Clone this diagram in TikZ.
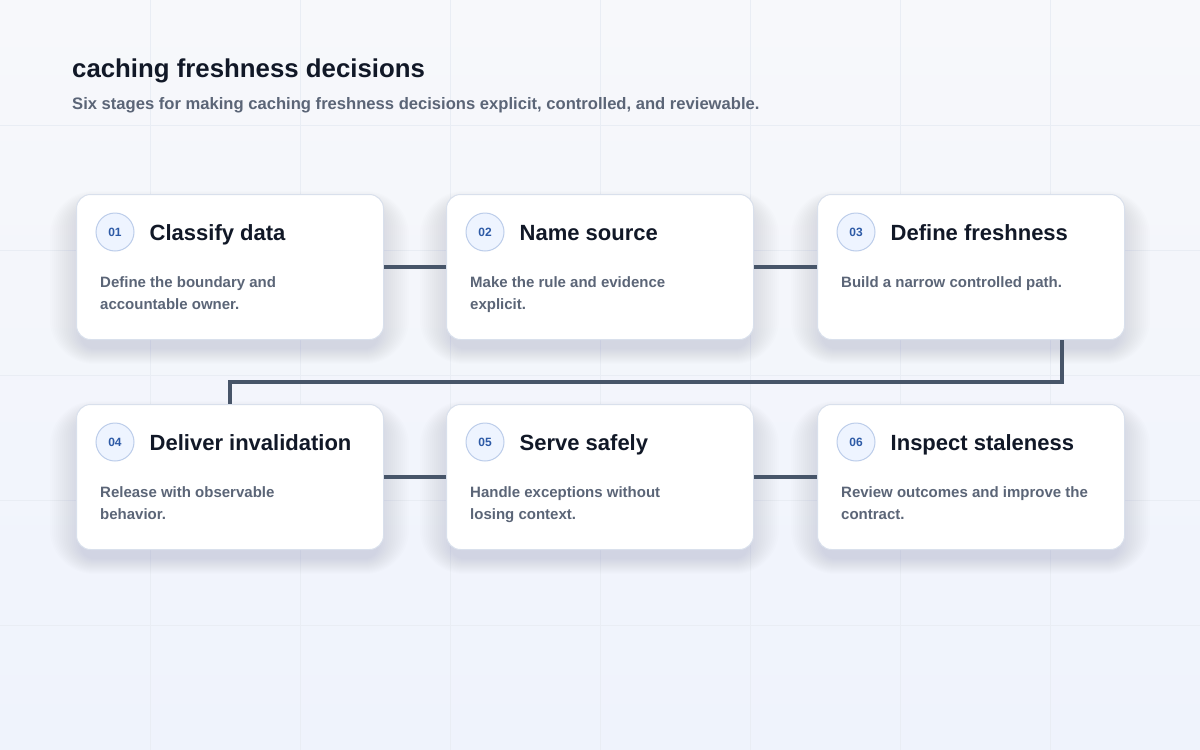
\documentclass[tikz,border=0pt]{standalone}
\usepackage{fontspec}
\setmainfont{Liberation Sans}
\usepackage{tikz}
\usetikzlibrary{positioning,calc}

\definecolor{ink}{HTML}{111827}
\definecolor{slate}{HTML}{5B6577}
\definecolor{wire}{HTML}{475569}
\definecolor{badgefill}{HTML}{EEF4FF}
\definecolor{badgeline}{HTML}{BCCDEA}
\definecolor{badgetext}{HTML}{2D5AA6}
\definecolor{cardline}{HTML}{D9E0EC}
\definecolor{gridline}{HTML}{E9EDF4}
\definecolor{bgtop}{HTML}{F7F8FB}
\definecolor{bgbottom}{HTML}{EFF3FC}
\definecolor{shadowcol}{HTML}{3B4A6B}

\tikzset{
  card/.style={draw=cardline, line width=1pt, fill=white, rounded corners=14pt,
    minimum width=307pt, minimum height=145pt, anchor=north west},
  haze/.style={fill=shadowcol, opacity=0.008},
  badge/.style={circle, draw=badgeline, fill=badgefill, line width=1pt, minimum size=38pt,
    inner sep=0pt, text=badgetext, font=\bfseries\fontsize{12}{12}\selectfont},
  cardtitle/.style={anchor=base west, inner sep=0pt, text=ink, font=\bfseries\fontsize{22}{26}\selectfont},
  carddesc/.style={anchor=north west, inner sep=0pt, align=left, text=slate,
    font=\bfseries\fontsize{15}{22}\selectfont},
  link/.style={draw=wire, line width=4pt}
}

\begin{document}
\begin{tikzpicture}[x=1pt, y=-1pt]
  \useasboundingbox (0,0) rectangle (1200,750);
  \shade[top color=bgtop, bottom color=bgbottom] (0,0) rectangle (1200,750);
  % faint grid
  \foreach \gx in {150,300,...,1050}
    \draw[gridline] (\gx,0) -- (\gx,750);
  \foreach \gy in {125,250,...,625}
    \draw[gridline] (0,\gy) -- (1200,\gy);

  \node[anchor=base west, inner sep=0pt, text=ink, font=\bfseries\fontsize{25.8}{30}\selectfont] (title) at (72,77) {caching freshness decisions};
  \node[anchor=base west, inner sep=0pt, text=slate, font=\bfseries\fontsize{16.6}{20}\selectfont] (subtitle) at (72,109.5) {Six stages for making caching freshness decisions explicit, controlled, and reviewable.};

  \foreach \n/\px/\py/\head/\body in {
    1/76/194/Classify data/{Define the boundary and\\accountable owner.},
    2/446/194/Name source/{Make the rule and evidence\\explicit.},
    3/817/194/Define freshness/{Build a narrow controlled path.},
    4/76/404/Deliver invalidation/{Release with observable\\behavior.},
    5/446/404/Serve safely/{Handle exceptions without\\losing context.},
    6/817/404/Inspect staleness/{Review outcomes and improve the\\contract.}}
  {
    % soft shadow
    \foreach \k in {0,2,...,30}
      \fill[haze, rounded corners=14+\k] (\px-\k+4,\py+12-\k/2) rectangle (\px+307+\k-4,\py+155+\k/2);
    \node[card] (c\n) at (\px,\py) {};
    \node[badge] (b\n) at ($(c\n.north west)+(39,38)$) {0\n};
    \node[cardtitle] (t\n) at ($(b\n.east)+(15,8)$) {\head};
    \node[carddesc] (d\n) at ($(c\n.north west)+(24,82)$) {\body};
  }

  % connectors
  \coordinate (turn) at (1062,382);
  \draw[link] (c1.east) -- (c2.west);
  \draw[link] (c2.east) -- (c3.west);
  \draw[link] (c3.south -| turn) -- (turn) -| (c4.north);
  \draw[link] (c4.east) -- (c5.west);
  \draw[link] (c5.east) -- (c6.west);
\end{tikzpicture}
\end{document}
